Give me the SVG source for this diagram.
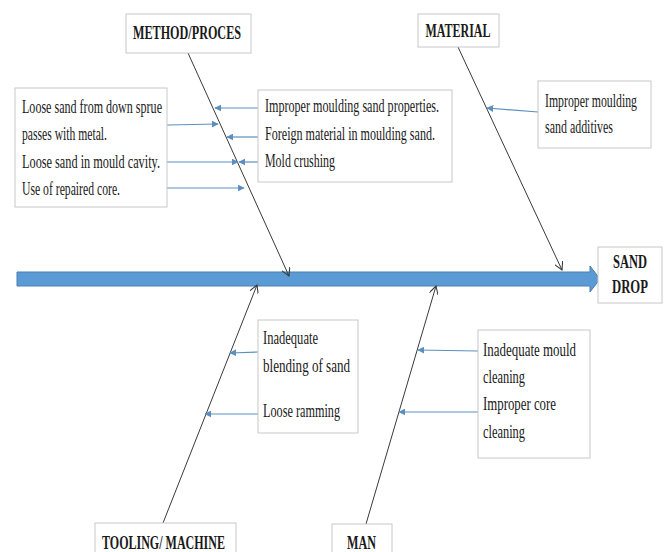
<svg xmlns="http://www.w3.org/2000/svg" width="667" height="552" viewBox="0 0 667 552">
<style>
.box{fill:#fff;stroke:#c8c8c8;stroke-width:1}
.t{font-family:"Liberation Serif","Times New Roman",serif;font-size:19px;fill:#1a1a1a}
.h{font-family:"Liberation Serif","Times New Roman",serif;font-size:19px;font-weight:bold;fill:#1a1a1a;text-anchor:middle}
.bone{stroke:#3a3a3a;stroke-width:1;fill:none;marker-end:url(#open)}
.cause{stroke:#5b8fc0;stroke-width:1.2;fill:none;marker-end:url(#tri)}
</style>
<defs>
<marker id="open" viewBox="0 0 10 10" refX="9" refY="5" markerWidth="9" markerHeight="9" markerUnits="userSpaceOnUse" orient="auto">
<path d="M0,0 L9,5 L0,10" fill="none" stroke="#3a3a3a" stroke-width="1.2"/>
</marker>
<marker id="tri" viewBox="0 0 10 10" refX="9" refY="5" markerWidth="7" markerHeight="7" markerUnits="userSpaceOnUse" orient="auto">
<path d="M0,0 L10,5 L0,10 Z" fill="#5b8fc0"/>
</marker>
</defs>
<rect width="667" height="552" fill="#fff"/>

<g id="spine">
<path d="M17,272 H590 V266 L600,279 L590,292 V286 H17 Z" fill="#5b9bd5" stroke="#4a7fb0" stroke-width="1"/>
</g>

<g id="connectors">
<line class="bone" x1="188" y1="53" x2="289" y2="276"/>
<line class="bone" x1="458" y1="47" x2="562" y2="270"/>
<line class="bone" x1="163" y1="523" x2="257" y2="285"/>
<line class="bone" x1="366" y1="524" x2="436" y2="286"/>
<line class="cause" x1="167" y1="125" x2="218" y2="124"/>
<line class="cause" x1="167" y1="162" x2="238" y2="162"/>
<line class="cause" x1="167" y1="188" x2="244" y2="188"/>
<line class="cause" x1="258" y1="108" x2="215" y2="108"/>
<line class="cause" x1="258" y1="137" x2="227" y2="137"/>
<line class="cause" x1="258" y1="162" x2="239" y2="162"/>
<line class="cause" x1="538" y1="112" x2="487" y2="108"/>
<line class="cause" x1="258" y1="352" x2="230" y2="353"/>
<line class="cause" x1="258" y1="414" x2="205" y2="414"/>
<line class="cause" x1="478" y1="351" x2="418" y2="350"/>
<line class="cause" x1="478" y1="412" x2="399" y2="412"/>
</g>

<g id="method">
<rect class="box" x="126" y="14" width="125" height="39"/>
<text class="h" x="187" y="39" textLength="108" lengthAdjust="spacingAndGlyphs">METHOD/PROCES</text>
</g>

<g id="material">
<rect class="box" x="418" y="14" width="81" height="33"/>
<text class="h" x="458" y="37" textLength="65" lengthAdjust="spacingAndGlyphs">MATERIAL</text>
</g>

<g id="sand-drop">
<rect class="box" x="598" y="247" width="64" height="56"/>
<text class="h" x="630" y="268" textLength="34" lengthAdjust="spacingAndGlyphs">SAND</text>
<text class="h" x="630" y="293" textLength="36" lengthAdjust="spacingAndGlyphs">DROP</text>
</g>

<g id="tooling">
<rect class="box" x="95" y="523" width="141" height="40"/>
<text class="h" x="163.5" y="549" textLength="123" lengthAdjust="spacingAndGlyphs">TOOLING/ MACHINE</text>
</g>

<g id="man">
<rect class="box" x="332" y="524" width="60" height="40"/>
<text class="h" x="361.5" y="549" textLength="29" lengthAdjust="spacingAndGlyphs">MAN</text>
</g>

<g id="method-causes-left">
<rect class="box" x="15" y="88" width="152" height="119"/>
<text class="t" x="22" y="113" textLength="140" lengthAdjust="spacingAndGlyphs">Loose sand from down sprue</text>
<text class="t" x="22" y="140" textLength="85" lengthAdjust="spacingAndGlyphs">passes with metal.</text>
<text class="t" x="22" y="168" textLength="138" lengthAdjust="spacingAndGlyphs">Loose sand in mould cavity.</text>
<text class="t" x="22" y="195" textLength="98" lengthAdjust="spacingAndGlyphs">Use of repaired core.</text>
</g>

<g id="method-causes-right">
<rect class="box" x="258" y="90" width="194" height="92"/>
<text class="t" x="265" y="112" textLength="174" lengthAdjust="spacingAndGlyphs">Improper moulding sand properties.</text>
<text class="t" x="265" y="140" textLength="170" lengthAdjust="spacingAndGlyphs">Foreign material in moulding sand.</text>
<text class="t" x="265" y="167" textLength="70" lengthAdjust="spacingAndGlyphs">Mold crushing</text>
</g>

<g id="material-causes">
<rect class="box" x="538" y="81" width="113" height="67"/>
<text class="t" x="545" y="107" textLength="92" lengthAdjust="spacingAndGlyphs">Improper moulding</text>
<text class="t" x="545" y="133" textLength="68" lengthAdjust="spacingAndGlyphs">sand additives</text>
</g>

<g id="tooling-causes">
<rect class="box" x="258" y="320" width="100" height="113"/>
<text class="t" x="263" y="344" textLength="55" lengthAdjust="spacingAndGlyphs">Inadequate</text>
<text class="t" x="263" y="372" textLength="87" lengthAdjust="spacingAndGlyphs">blending of sand</text>
<text class="t" x="263" y="417" textLength="77" lengthAdjust="spacingAndGlyphs">Loose ramming</text>
</g>

<g id="man-causes">
<rect class="box" x="478" y="330" width="112" height="128"/>
<text class="t" x="483" y="356" textLength="93" lengthAdjust="spacingAndGlyphs">Inadequate mould</text>
<text class="t" x="483" y="383" textLength="42" lengthAdjust="spacingAndGlyphs">cleaning</text>
<text class="t" x="483" y="410" textLength="73" lengthAdjust="spacingAndGlyphs">Improper core</text>
<text class="t" x="483" y="438" textLength="42" lengthAdjust="spacingAndGlyphs">cleaning</text>
</g>
</svg>
